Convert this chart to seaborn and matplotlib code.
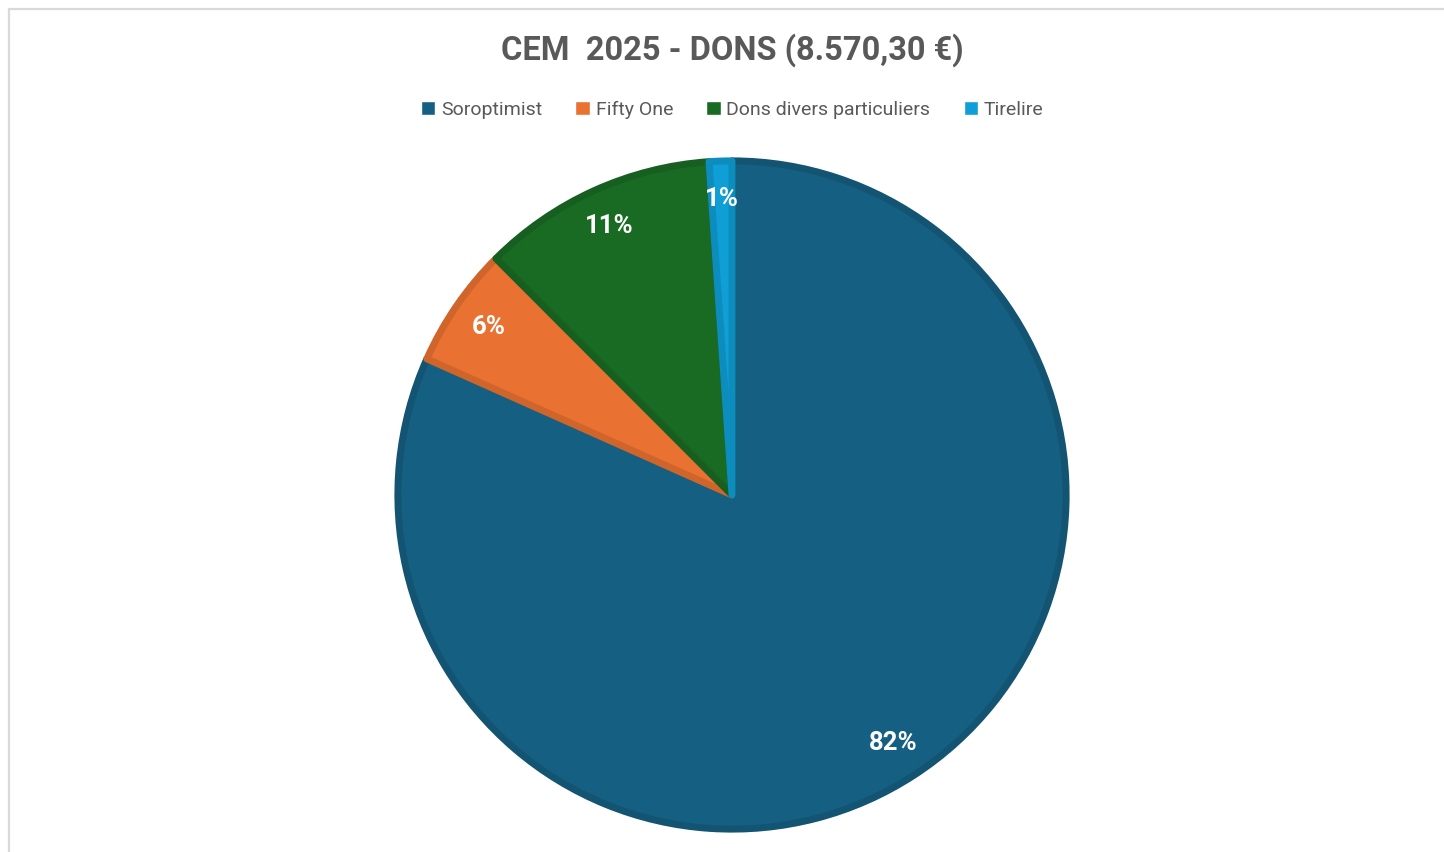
import matplotlib
matplotlib.use("Agg")
from matplotlib import pyplot as plt
from matplotlib.patches import Rectangle
import seaborn as sb

# Data
labels = ["Soroptimist", "Fifty One", "Dons divers particuliers", "Tirelire"]
values = [7000.00, 500.00, 976.30, 94.00]
colors = ["#156082", "#E97132", "#196B24", "#0F9ED5"]
edges = ["#125471", "#D0652C", "#175F20", "#0D8CBE"]
title = "CEM  2025 - DONS (8.570,30 €)"

sb.set_theme(style="white")
plt.rcParams['font.family'] = ['Roboto', 'DejaVu Sans']

fig = plt.figure(figsize=(14.44, 8.52), dpi=100)
fig.patch.set_facecolor("white")

# light grey chart frame (top/left visible, rest cropped)
fig.add_artist(Rectangle((9 / 1444, -0.1), 1.2, (852 - 9) / 852 + 0.1,
                         transform=fig.transFigure, fill=False,
                         edgecolor="#D9D9D9", linewidth=1.6))

ax = fig.add_axes([(732 - 337.5) / 1444, (852 - 495 - 337.5) / 852,
                   675 / 1444, 675 / 852])
wedges, texts, autotexts = ax.pie(
    values, colors=colors, startangle=90, counterclock=False,
    autopct=lambda p: f"{p:.0f}%", pctdistance=0.885,
    radius=0.99,
    wedgeprops=dict(linewidth=5, joinstyle="round"),
    textprops=dict(color="white", fontsize=18.5, fontweight="bold"))
for w, ec in zip(wedges, edges):
    w.set_edgecolor(ec)
ax.set_xlim(-1, 1)
ax.set_ylim(-1, 1)
ax.set_aspect("equal")
ax.axis("off")

fig.text(0.507, 1 - 50 / 852, title, ha="center", va="center",
         fontsize=23.5, fontweight="bold", color="#595959")

handles = [Rectangle((0, 0), 1, 1, facecolor=c) for c in colors]
fig.legend(handles, labels, loc="center", bbox_to_anchor=(0.507, 1 - 110 / 852),
           ncol=4, frameon=False, fontsize=14, labelcolor="#595959",
           handlelength=0.75, handleheight=0.75, handletextpad=0.3,
           columnspacing=1.7)

fig.savefig("out.png", dpi=100, facecolor="white")
